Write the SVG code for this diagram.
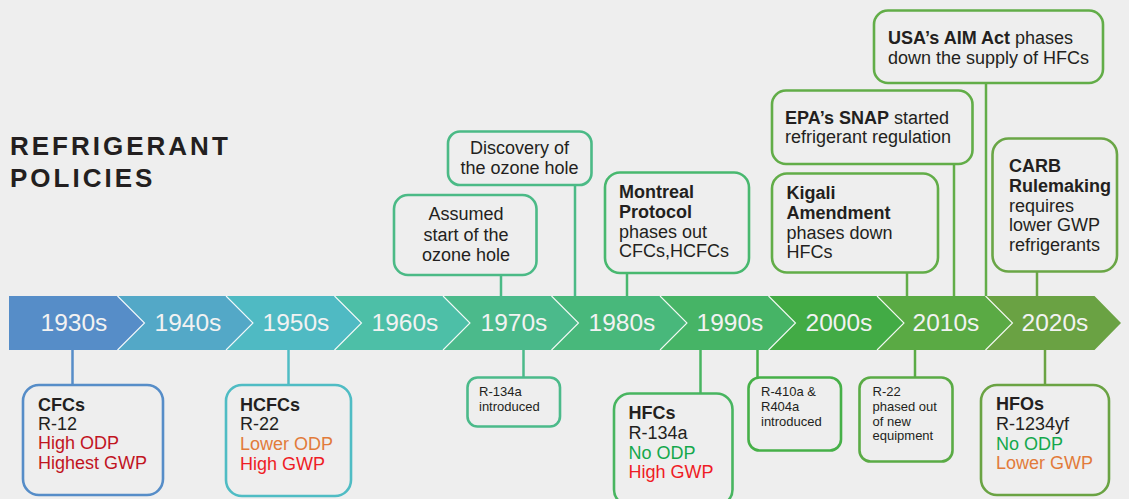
<svg xmlns="http://www.w3.org/2000/svg" width="1129" height="499" viewBox="0 0 1129 499">
<style>
text{font-family:"Liberation Sans",Arial,Helvetica,sans-serif;fill:#231f20}
.t{font-size:18px}
.s{font-size:13px}
.b{font-weight:bold}
.dec{font-size:24.5px;fill:#f2f2f2;text-anchor:middle}
.title{font-size:26px;font-weight:bold;letter-spacing:3px}
.box{fill:#eeeeee;stroke-width:2.6}
.sep{fill:none;stroke:#ffffff;stroke-width:1.1;opacity:0.9}
.c{stroke-width:2.5;fill:none}
.dred{fill:#c1141f}.red{fill:#ee1c25}.org{fill:#e27b3a}.grn{fill:#14a84c}
</style>
<rect width="1129" height="499" fill="#eeeeee"/>
<g id="title">
<text class="title" x="10" y="155">REFRIGERANT</text>
<text class="title" x="10" y="187">POLICIES</text>
</g>
<g id="timeline">
<polygon points="9,296 117.5,296 144.5,323 117.5,350 9,350" fill="#568dc8"/>
<polygon points="117.5,296 226,296 253,323 226,350 117.5,350 144.5,323" fill="#53a8c7"/>
<polygon points="226,296 334.5,296 361.5,323 334.5,350 226,350 253,323" fill="#4fbac3"/>
<polygon points="334.5,296 443,296 470,323 443,350 334.5,350 361.5,323" fill="#4dbfa7"/>
<polygon points="443,296 551.5,296 578.5,323 551.5,350 443,350 470,323" fill="#4bba8b"/>
<polygon points="551.5,296 660,296 687,323 660,350 551.5,350 578.5,323" fill="#48b87b"/>
<polygon points="660,296 768.5,296 795.5,323 768.5,350 660,350 687,323" fill="#46b466"/>
<polygon points="768.5,296 877,296 904,323 877,350 768.5,350 795.5,323" fill="#42ab45"/>
<polygon points="877,296 985.5,296 1012.5,323 985.5,350 877,350 904,323" fill="#5aaa44"/>
<polygon points="985.5,296 1094.5,296 1121,323 1094.5,350 985.5,350 1012.5,323" fill="#6aa243"/>
<polyline class="sep" points="117.5,296 144.5,323 117.5,350"/>
<polyline class="sep" points="226,296 253,323 226,350"/>
<polyline class="sep" points="334.5,296 361.5,323 334.5,350"/>
<polyline class="sep" points="443,296 470,323 443,350"/>
<polyline class="sep" points="551.5,296 578.5,323 551.5,350"/>
<polyline class="sep" points="660,296 687,323 660,350"/>
<polyline class="sep" points="768.5,296 795.5,323 768.5,350"/>
<polyline class="sep" points="877,296 904,323 877,350"/>
<polyline class="sep" points="985.5,296 1012.5,323 985.5,350"/>
<text class="dec" x="74" y="331">1930s</text>
<text class="dec" x="188" y="331">1940s</text>
<text class="dec" x="296" y="331">1950s</text>
<text class="dec" x="405" y="331">1960s</text>
<text class="dec" x="514" y="331">1970s</text>
<text class="dec" x="622" y="331">1980s</text>
<text class="dec" x="730" y="331">1990s</text>
<text class="dec" x="839" y="331">2000s</text>
<text class="dec" x="946" y="331">2010s</text>
<text class="dec" x="1055" y="331">2020s</text>
</g>
<g id="connectors">
<line class="c" x1="501" y1="275" x2="501" y2="296" stroke="#4bba86"/>
<line class="c" x1="575" y1="185" x2="575" y2="296" stroke="#4bba86"/>
<line class="c" x1="627" y1="273" x2="627" y2="296" stroke="#48b86f"/>
<line class="c" x1="907" y1="273" x2="907" y2="296" stroke="#62ad48"/>
<line class="c" x1="954" y1="164" x2="954" y2="296" stroke="#62ad48"/>
<line class="c" x1="986" y1="83" x2="986" y2="296" stroke="#62ad48"/>
<line class="c" x1="1037" y1="272" x2="1037" y2="296" stroke="#6aa646"/>
<line class="c" x1="72.5" y1="350" x2="72.5" y2="385" stroke="#568dc8"/>
<line class="c" x1="288.5" y1="350" x2="288.5" y2="385" stroke="#4fbcc4"/>
<line class="c" x1="523.5" y1="350" x2="523.5" y2="377" stroke="#4bba8a"/>
<line class="c" x1="700.5" y1="350" x2="700.5" y2="393" stroke="#48b560"/>
<line class="c" x1="757.5" y1="350" x2="757.5" y2="377" stroke="#46b048"/>
<line class="c" x1="915" y1="350" x2="915" y2="377" stroke="#5aab45"/>
<line class="c" x1="1045" y1="350" x2="1045" y2="385" stroke="#6aa343"/>
</g>
<g id="assumed">
<rect class="box" x="394" y="195" width="142.5" height="80" rx="14" stroke="#4bba86"/>
<text class="t" text-anchor="middle" x="466" y="220">Assumed</text>
<text class="t" text-anchor="middle" x="466" y="240.5">start of the</text>
<text class="t" text-anchor="middle" x="466" y="261">ozone hole</text>
</g>
<g id="discovery">
<rect class="box" x="448" y="131.5" width="143.5" height="53.5" rx="12" stroke="#4bba86"/>
<text class="t" text-anchor="middle" x="519.5" y="153.5">Discovery of</text>
<text class="t" text-anchor="middle" x="519.5" y="173.5">the ozone hole</text>
</g>
<g id="montreal">
<rect class="box" x="605" y="172.5" width="144" height="100.5" rx="15" stroke="#48b86f"/>
<text class="t b" x="619" y="198">Montreal</text>
<text class="t b" x="619" y="218">Protocol</text>
<text class="t" x="619" y="237.5">phases out</text>
<text class="t" x="619" y="257">CFCs,HCFCs</text>
</g>
<g id="kigali">
<rect class="box" x="772" y="173.5" width="166" height="99" rx="15" stroke="#62ad48"/>
<text class="t b" x="786.5" y="199">Kigali</text>
<text class="t b" x="786.5" y="219">Amendment</text>
<text class="t" x="786.5" y="239">phases down</text>
<text class="t" x="786.5" y="258">HFCs</text>
</g>
<g id="epa">
<rect class="box" x="772" y="90.5" width="200.5" height="73.5" rx="14" stroke="#62ad48"/>
<text class="t" x="785" y="124"><tspan class="b">EPA’s SNAP</tspan> started</text>
<text class="t" x="785" y="143">refrigerant regulation</text>
</g>
<g id="aim">
<rect class="box" x="874" y="10.5" width="229" height="72.5" rx="14" stroke="#62ad48"/>
<text class="t" x="888" y="43.5"><tspan class="b">USA’s AIM Act</tspan> phases</text>
<text class="t" x="888" y="63.5">down the supply of HFCs</text>
</g>
<g id="carb">
<rect class="box" x="992.5" y="138.5" width="124.5" height="133" rx="16" stroke="#6aa646"/>
<text class="t b" x="1009" y="172">CARB</text>
<text class="t b" x="1009" y="192">Rulemaking</text>
<text class="t" x="1009" y="211.5">requires</text>
<text class="t" x="1009" y="231">lower GWP</text>
<text class="t" x="1009" y="251">refrigerants</text>
</g>
<g id="cfcs">
<rect class="box" x="23" y="385" width="140" height="110" rx="16" stroke="#568dc8"/>
<text class="t b" x="38" y="410.5">CFCs</text>
<text class="t" x="38" y="429.5">R-12</text>
<text class="t dred" x="38" y="448.5">High ODP</text>
<text class="t dred" x="38" y="468.5">Highest GWP</text>
</g>
<g id="hcfcs">
<rect class="box" x="226" y="385" width="125" height="111" rx="16" stroke="#4fbcc4"/>
<text class="t b" x="240" y="410.5">HCFCs</text>
<text class="t" x="240" y="430">R-22</text>
<text class="t org" x="240" y="450">Lower ODP</text>
<text class="t red" x="240" y="469.5">High GWP</text>
</g>
<g id="r134a">
<rect class="box" x="467.5" y="377.5" width="92.5" height="49" rx="10" stroke="#4bba8a"/>
<text class="s" x="479" y="396">R-134a</text>
<text class="s" x="479" y="410.5">introduced</text>
</g>
<g id="hfcs">
<rect class="box" x="614" y="393.5" width="118.5" height="112" rx="16" stroke="#48b560"/>
<text class="t b" x="628.5" y="419">HFCs</text>
<text class="t" x="628.5" y="439">R-134a</text>
<text class="t grn" x="628.5" y="458.5">No ODP</text>
<text class="t red" x="628.5" y="478">High GWP</text>
</g>
<g id="r410a">
<rect class="box" x="748.5" y="377.5" width="92.5" height="73" rx="11" stroke="#46b048"/>
<text class="s" x="761" y="396">R-410a &amp;</text>
<text class="s" x="761" y="411">R404a</text>
<text class="s" x="761" y="425.5">introduced</text>
</g>
<g id="r22">
<rect class="box" x="859.5" y="377.5" width="93" height="84" rx="11" stroke="#5aab45"/>
<text class="s" x="872.5" y="396">R-22</text>
<text class="s" x="872.5" y="411">phased out</text>
<text class="s" x="872.5" y="425.5">of new</text>
<text class="s" x="872.5" y="440">equipment</text>
</g>
<g id="hfos">
<rect class="box" x="981" y="385" width="128" height="110" rx="16" stroke="#6aa343"/>
<text class="t b" x="996" y="410">HFOs</text>
<text class="t" x="996" y="430">R-1234yf</text>
<text class="t grn" x="996" y="449.5">No ODP</text>
<text class="t org" x="996" y="469">Lower GWP</text>
</g>
</svg>
